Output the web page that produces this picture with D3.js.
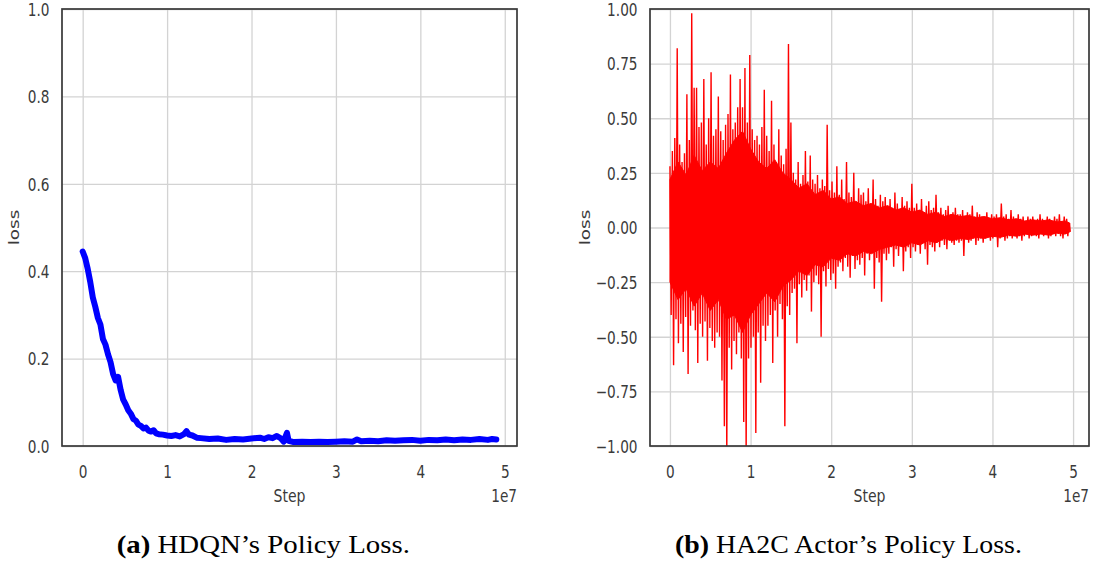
<!DOCTYPE html>
<html><head><meta charset="utf-8">
<script src="https://cdn.jsdelivr.net/npm/d3@7"></script>
<style>
html,body{margin:0;padding:0;background:#fff;}
svg{display:block;}
</style></head>
<body>
<svg id="chart" width="1100" height="565"></svg>
<script>
// ---------------- DATA ----------------
// Left panel: HDQN policy loss (step in units of 1e7)
const hdqnSteps = [0.00,0.03,0.06,0.09,0.12,0.15,0.18,0.21,0.24,0.27,0.30,0.33,0.36,0.39,0.42,0.45,0.48,0.51,0.54,0.57,0.60,0.63,0.66,0.69,0.72,0.75,0.78,0.81,0.84,0.87,0.90,0.95,1.00,1.05,1.10,1.15,1.20,1.23,1.26,1.30,1.35,1.40,1.50,1.60,1.70,1.80,1.90,2.00,2.10,2.15,2.20,2.25,2.30,2.35,2.38,2.42,2.44,2.50,2.60,2.70,2.80,2.90,3.00,3.10,3.20,3.25,3.30,3.40,3.50,3.60,3.70,3.80,3.90,4.00,4.10,4.20,4.30,4.40,4.50,4.60,4.70,4.80,4.85,4.90];
const hdqnLoss = [0.445,0.430,0.405,0.375,0.340,0.318,0.293,0.278,0.245,0.232,0.210,0.192,0.165,0.150,0.158,0.128,0.106,0.095,0.082,0.074,0.062,0.058,0.049,0.046,0.040,0.042,0.035,0.033,0.036,0.029,0.027,0.026,0.024,0.023,0.025,0.022,0.027,0.034,0.026,0.024,0.019,0.018,0.016,0.017,0.014,0.016,0.015,0.017,0.019,0.016,0.020,0.018,0.023,0.017,0.010,0.030,0.012,0.009,0.010,0.009,0.010,0.009,0.010,0.011,0.010,0.015,0.011,0.012,0.011,0.013,0.012,0.013,0.014,0.012,0.014,0.013,0.015,0.013,0.015,0.014,0.016,0.014,0.016,0.015];

// Right panel: HA2C actor policy loss, per step bin (0.03e7 wide) upper / lower extremes
const ha2cHigh = [
 0.28,0.35,0.41,0.82,0.38,0.30,0.34,0.61,0.40,0.98,
 0.64,0.64,0.46,0.48,0.68,0.38,0.50,0.71,0.42,0.45,
 0.60,0.44,0.40,0.47,0.52,0.70,0.45,0.48,0.55,0.68,
 0.55,0.73,0.48,0.79,0.45,0.40,0.42,0.38,0.46,0.63,
 0.42,0.35,0.58,0.38,0.30,0.45,0.33,0.29,0.36,0.84,
 0.48,0.25,0.22,0.30,0.20,0.24,0.35,0.21,0.33,0.22,
 0.20,0.24,0.18,0.22,0.19,0.47,0.17,0.21,0.16,0.28,
 0.15,0.22,0.13,0.30,0.16,0.14,0.25,0.12,0.18,0.15,
 0.16,0.12,0.18,0.11,0.22,0.13,0.10,0.15,0.12,0.14,
 0.10,0.13,0.09,0.16,0.11,0.08,0.14,0.10,0.12,0.09,
 0.20,0.09,0.11,0.08,0.13,0.07,0.10,0.12,0.08,0.09,
 0.15,0.07,0.09,0.06,0.08,0.10,0.06,0.07,0.09,0.06,
 0.06,0.08,0.05,0.07,0.06,0.10,0.05,0.07,0.06,0.05,
 0.05,0.07,0.04,0.06,0.05,0.06,0.04,0.11,0.05,0.06,
 0.04,0.08,0.05,0.04,0.06,0.04,0.05,0.03,0.05,0.04,
 0.05,0.03,0.04,0.06,0.04,0.03,0.05,0.04,0.03,0.05,0.04,0.06,0.03,0.05,0.04,0.02];
const ha2cLow = [
 -0.40,-0.63,-0.42,-0.53,-0.44,-0.57,-0.41,-0.67,-0.45,-0.38,
 -0.47,-0.62,-0.44,-0.50,-0.43,-0.61,-0.46,-0.52,-0.55,-0.48,
 -0.50,-0.70,-0.91,-1.05,-0.55,-0.65,-0.52,-0.58,-0.48,-0.60,
 -0.89,-1.05,-0.60,-0.55,-0.50,-0.94,-0.48,-0.71,-0.45,-0.52,
 -0.45,-0.40,-0.62,-0.38,-0.50,-0.35,-0.42,-0.91,-0.36,-0.40,
 -0.30,-0.28,-0.53,-0.26,-0.32,-0.24,-0.29,-0.22,-0.385,-0.25,
 -0.22,-0.26,-0.50,-0.20,-0.27,-0.19,-0.24,-0.21,-0.28,-0.18,
 -0.16,-0.20,-0.14,-0.18,-0.23,-0.13,-0.19,-0.15,-0.17,-0.14,
 -0.22,-0.12,-0.15,-0.11,-0.28,-0.14,-0.16,-0.34,-0.12,-0.15,
 -0.12,-0.09,-0.18,-0.10,-0.13,-0.08,-0.20,-0.11,-0.09,-0.14,
 -0.09,-0.11,-0.08,-0.12,-0.07,-0.10,-0.17,-0.08,-0.09,-0.11,
 -0.07,-0.09,-0.06,-0.08,-0.10,-0.06,-0.07,-0.08,-0.06,-0.07,
 -0.06,-0.13,-0.05,-0.07,-0.06,-0.05,-0.08,-0.06,-0.05,-0.07,
 -0.05,-0.04,-0.06,-0.05,-0.04,-0.09,-0.05,-0.04,-0.06,-0.05,
 -0.04,-0.05,-0.03,-0.05,-0.04,-0.06,-0.04,-0.03,-0.05,-0.04,
 -0.03,-0.04,-0.05,-0.03,-0.04,-0.03,-0.05,-0.04,-0.03,-0.04,-0.03,-0.04,-0.05,-0.03,-0.04,-0.02];
const ha2cBinWidth = 0.03; // in units of 1e7 steps

// Dense core band of the HA2C loss (where the trace is solid red), sampled every 0.1e7
const ha2cCoreSteps = [0.0,0.1,0.2,0.3,0.4,0.5,0.6,0.7,0.8,0.9,1.0,1.1,1.2,1.3,1.4,1.5,1.6,1.7,1.8,1.9,2.0,2.1,2.2,2.3,2.4,2.5,2.6,2.7,2.8,2.9,3.0,3.1,3.2,3.3,3.4,3.5,3.6,3.7,3.8,3.9,4.0,4.1,4.2,4.3,4.4,4.5,4.6,4.7,4.8,4.9,4.96];
const ha2cCoreHigh = [0.22,0.30,0.24,0.33,0.26,0.30,0.27,0.34,0.40,0.44,0.36,0.30,0.27,0.31,0.25,0.22,0.18,0.20,0.15,0.17,0.13,0.14,0.11,0.12,0.10,0.11,0.09,0.10,0.08,0.09,0.07,0.08,0.06,0.07,0.05,0.06,0.05,0.055,0.045,0.05,0.04,0.045,0.035,0.04,0.03,0.035,0.03,0.035,0.025,0.03,0.02];
const ha2cCoreLow = [-0.25,-0.33,-0.28,-0.36,-0.30,-0.38,-0.33,-0.42,-0.40,-0.48,-0.40,-0.35,-0.30,-0.34,-0.27,-0.24,-0.20,-0.22,-0.17,-0.18,-0.14,-0.15,-0.12,-0.13,-0.11,-0.12,-0.10,-0.09,-0.08,-0.09,-0.07,-0.08,-0.06,-0.07,-0.05,-0.06,-0.05,-0.055,-0.045,-0.05,-0.04,-0.045,-0.035,-0.04,-0.03,-0.035,-0.03,-0.035,-0.025,-0.03,-0.02];

const xTicks = [0,1,2,3,4,5];
const leftYTicks = [0,0.2,0.4,0.6,0.8,1.0];
const rightYTicks = [-1,-0.75,-0.5,-0.25,0,0.25,0.5,0.75,1];
const xLabel = "Step";
const yLabel = "loss";
const xOffsetLabel = "1e7";
const captions = [
  {tag:"(a)", text:" HDQN\u2019s Policy Loss."},
  {tag:"(b)", text:" HA2C Actor\u2019s Policy Loss."}
];

// ---------------- DRAW ----------------
const svg = d3.select("#chart");
const SX = 0.78;            // horizontal squeeze of the figure text
const tickColor = "#3a3a3a";
const gridColor = "#d3d3d3";
const frameColor = "#383838";

function panel(cfg){
  const {x0,x1,y0,y1,xDom,yDom,yTicks,yFmt,id} = cfg;
  const x = d3.scaleLinear().domain(xDom).range([x0,x1]);
  const y = d3.scaleLinear().domain(yDom).range([y1,y0]);
  const g = svg.append("g");
  const w = x1-x0, h = y1-y0;

  g.append("g").attr("transform",`translate(0,${y1})`)
    .call(d3.axisBottom(x).tickValues(xTicks.map(d=>d*1e7)).tickSize(-h).tickFormat(""))
    .call(s=>s.select(".domain").remove())
    .call(s=>s.selectAll("line").attr("stroke",gridColor).attr("stroke-width",1.3));
  g.append("g").attr("transform",`translate(${x0},0)`)
    .call(d3.axisLeft(y).tickValues(yTicks).tickSize(-w).tickFormat(""))
    .call(s=>s.select(".domain").remove())
    .call(s=>s.selectAll("line").attr("stroke",gridColor).attr("stroke-width",1.3));

  svg.append("clipPath").attr("id",id).append("rect")
    .attr("x",x0).attr("y",y0).attr("width",w).attr("height",h);

  g.append("g").attr("transform",`translate(0,${y1})`)
    .call(d3.axisBottom(x).tickValues(xTicks.map(d=>d*1e7)).tickSize(0).tickFormat(d=>d3.format("d")(d/1e7)))
    .call(s=>s.select(".domain").remove())
    .call(s=>s.selectAll("text")
      .attr("x",0).attr("y",0).attr("dy",null)
      .attr("transform",`translate(0,32) scale(${SX},1)`)
      .attr("fill",tickColor).attr("font-family","DejaVu Sans").attr("font-size",17.5));
  g.append("g").attr("transform",`translate(${x0},0)`)
    .call(d3.axisLeft(y).tickValues(yTicks).tickSize(0).tickFormat(d3.format(yFmt)))
    .call(s=>s.select(".domain").remove())
    .call(s=>s.selectAll("text")
      .attr("x",0).attr("y",0).attr("dy",null)
      .attr("text-anchor","end")
      .attr("transform",`translate(-12.5,6.3) scale(${SX},1)`)
      .attr("fill",tickColor).attr("font-family","DejaVu Sans").attr("font-size",17.5));

  g.append("text").text(xLabel)
    .attr("transform",`translate(${(x0+x1)/2},502) scale(${SX},1)`)
    .attr("text-anchor","middle").attr("fill",tickColor)
    .attr("font-family","DejaVu Sans").attr("font-size",18);
  g.append("text").text(xOffsetLabel)
    .attr("transform",`translate(${x1},502) scale(${SX},1)`)
    .attr("text-anchor","end").attr("fill",tickColor)
    .attr("font-family","DejaVu Sans").attr("font-size",17.5);
  g.append("text").text(yLabel)
    .attr("transform",`translate(${cfg.ylx},${(y0+y1)/2}) scale(${SX},1) rotate(-90)`)
    .attr("text-anchor","middle").attr("dy","0.35em").attr("fill",tickColor)
    .attr("font-family","DejaVu Sans").attr("font-size",18.5);

  return {x,y,g,frame:()=>g.append("rect").attr("x",x0).attr("y",y0).attr("width",w).attr("height",h)
      .attr("fill","none").attr("stroke",frameColor).attr("stroke-width",1.7)};
}

// Left panel
const L = panel({id:"clipL",x0:62,x1:517,y0:9,y1:446,xDom:[-0.245e7,5.145e7],yDom:[0,1],yTicks:leftYTicks,yFmt:".1f",ylx:14});
const leftPts = hdqnSteps.map((s,i)=>[s*1e7,hdqnLoss[i]]);
L.g.append("path").datum(leftPts)
  .attr("clip-path","url(#clipL)")
  .attr("d",d3.line().x(d=>L.x(d[0])).y(d=>L.y(d[1])))
  .attr("fill","none").attr("stroke","#0000ff").attr("stroke-width",6)
  .attr("stroke-linejoin","round").attr("stroke-linecap","round");
L.frame();

// Right panel
const R = panel({id:"clipR",x0:650,x1:1089,y0:9,y1:446,xDom:[-0.2475e7,5.1975e7],yDom:[-1,1],yTicks:rightYTicks,yFmt:".2f",ylx:585});
const corePts = ha2cCoreSteps.map((s,i)=>[s*1e7,ha2cCoreLow[i],ha2cCoreHigh[i]]);
R.g.append("path").datum(corePts)
  .attr("clip-path","url(#clipR)")
  .attr("d",d3.area().x(d=>R.x(d[0])).y0(d=>R.y(d[1])).y1(d=>R.y(d[2])))
  .attr("fill","#ff0000").attr("stroke","#ff0000").attr("stroke-width",1);
const rightPts = [];
ha2cHigh.forEach((hv,i)=>{
  const s = i*ha2cBinWidth*1e7;
  rightPts.push([s,hv]);
  rightPts.push([s+ha2cBinWidth*0.5e7,ha2cLow[i]]);
});
R.g.append("path").datum(rightPts)
  .attr("clip-path","url(#clipR)")
  .attr("d",d3.line().x(d=>R.x(d[0])).y(d=>R.y(d[1])))
  .attr("fill","none").attr("stroke","#ff0000").attr("stroke-width",1.4)
  .attr("stroke-linejoin","miter");
R.frame();

// Captions
const capSpecs = [{x0:116.7,x1:410},{x0:675,x1:1022}];
captions.forEach((c,i)=>{
  const t = svg.append("text").attr("font-family","Liberation Serif").attr("font-size",26).attr("fill","#000");
  t.append("tspan").attr("font-weight","bold").text(c.tag);
  t.append("tspan").text(c.text);
  const wNat = t.node().getComputedTextLength();
  const sx = (capSpecs[i].x1-capSpecs[i].x0)/wNat;
  t.attr("transform",`translate(${capSpecs[i].x0},553) scale(${sx},1)`);
});
</script>
</body></html>
